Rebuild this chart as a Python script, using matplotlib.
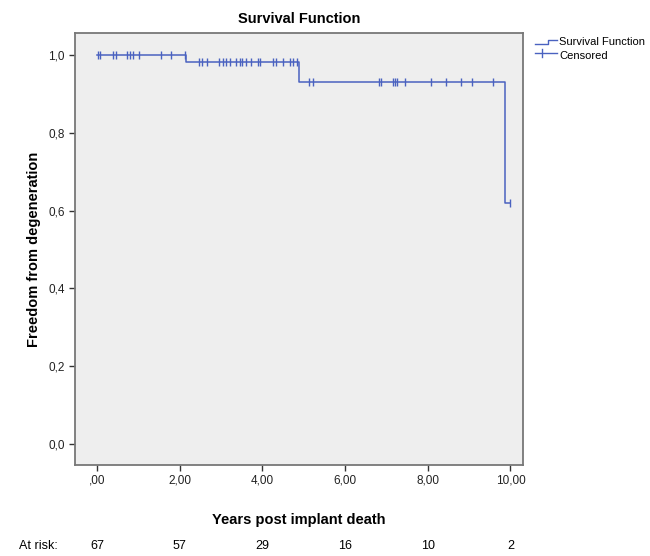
import numpy as np
import matplotlib.pyplot as plt
from matplotlib.lines import Line2D

plt.rcParams['font.family'] = ['Liberation Sans', 'DejaVu Sans']

# Kaplan-Meier estimate: step drops and the level after each drop
event_times = [0.0, 2.16, 4.88, 9.88]
survival = [1.0, 0.982, 0.93, 0.62]
end_time = 10.0

# censored observations (years)
censor_times = [0.02, 0.07, 0.39, 0.45, 0.72, 0.80, 0.87, 1.01, 1.55, 1.79, 2.13,
                2.47, 2.53, 2.65, 2.95, 3.04, 3.13, 3.21, 3.37, 3.45, 3.52, 3.61,
                3.73, 3.89, 3.94, 4.26, 4.32, 4.51, 4.66, 4.74, 4.84,
                5.12, 5.22, 6.81, 6.87, 7.15, 7.21, 7.25, 7.44, 8.07, 8.44,
                8.80, 9.06, 9.57, 10.0]

risk_times = [0, 2, 4, 6, 8, 10]
at_risk = [67, 57, 29, 16, 10, 2]

line_color = '#4a62c0'

fig = plt.figure(figsize=(6.5, 5.56), dpi=100)
ax = fig.add_axes([0.1154, 0.1637, 0.689, 0.777])
ax.set_facecolor('#eeeeee')

xs = event_times + [end_time]
ys = survival + [survival[-1]]
ax.step(xs, ys, where='post', color=line_color, lw=1.1)

idx = np.searchsorted(event_times, censor_times, side='right') - 1
cens_y = np.array(survival)[idx]
ax.plot(censor_times, cens_y, ls='none', marker='|', ms=6, mew=1.0, color=line_color)

ax.set_xlim(-0.53, 10.3)
ax.set_ylim(-0.054, 1.057)
ax.set_xticks(risk_times)
ax.set_xticklabels([',00', '2,00', '4,00', '6,00', '8,00', '10,00'])
ax.set_yticks([0, 0.2, 0.4, 0.6, 0.8, 1.0])
ax.set_yticklabels(['0,0', '0,2', '0,4', '0,6', '0,8', '1,0'])
ax.tick_params(labelsize=8.5, length=4, width=1, color='#333333', labelcolor='#222222')
ax.tick_params(axis='x', pad=3)
for sp in ax.spines.values():
    sp.set_color('#777777')
    sp.set_linewidth(1.3)

ax.set_title('Survival Function', fontsize=10.5, fontweight='bold', pad=7)
ax.set_xlabel('Years post implant death', fontsize=10.5, fontweight='bold', labelpad=19)
ax.set_ylabel('Freedom from degeneration', fontsize=10.5, fontweight='bold', labelpad=5)

# number at risk row under the x axis
trans = ax.get_xaxis_transform()
for t, n in zip(risk_times, at_risk):
    ax.text(t, -0.188, str(n), transform=trans, ha='center', va='center', fontsize=9)
fig.text(38 / 650, 1 - 546 / 556, 'At risk:', ha='center', va='center', fontsize=9)

# legend drawn to the right of the plot frame
W, H = 650, 556
def fx(px):
    return px / W
def fy(py):
    return 1 - py / H

fig.add_artist(Line2D([fx(535), fx(548), fx(548), fx(557)],
                      [fy(44), fy(44), fy(40), fy(40)], color=line_color, lw=1))
fig.add_artist(Line2D([fx(535), fx(557)], [fy(53), fy(53)], color=line_color, lw=1))
fig.add_artist(Line2D([fx(542), fx(542)], [fy(49), fy(57)], color=line_color, lw=1))
fig.text(fx(559), fy(42), 'Survival Function', fontsize=8, va='center', ha='left')
fig.text(fx(559), fy(56), 'Censored', fontsize=8, va='center', ha='left')

fig.savefig('out.png', dpi=100)
